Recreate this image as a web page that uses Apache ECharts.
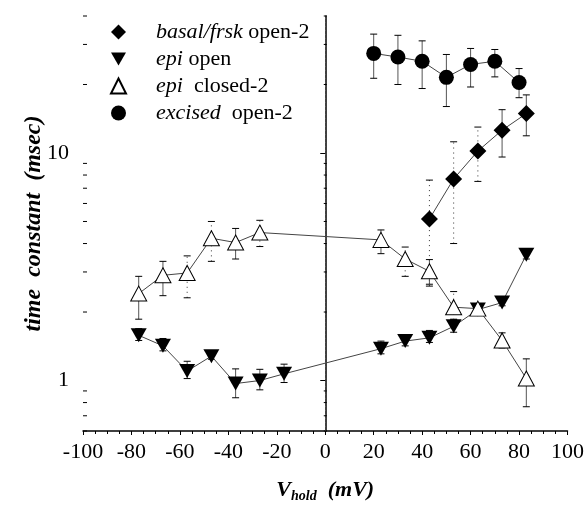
<!DOCTYPE html>
<html>
<head>
<meta charset="utf-8">
<script src="https://cdn.jsdelivr.net/npm/echarts@6/dist/echarts.min.js"></script>
<style>
html,body{margin:0;padding:0;background:#fff;}
#c{width:587px;height:509px;}
</style>
</head>
<body>
<div id="c"></div>
<script>
// ---- data ----
const seriesNames = ['basal/frsk open-2', 'epi open', 'epi  closed-2', 'excised  open-2'];
const legendItalic = ['basal/frsk', 'epi', 'epi', 'excised'];
const legendPlain = [' open-2', ' open', '  closed-2', '  open-2'];

const basalV = [43, 53, 63, 73, 83];
const basalTau = [5.13, 7.69, 10.2, 12.6, 14.9];
const basalLo = [2.6, 4.0, 7.5, 9.6, 11.9];
const basalHi = [7.6, 11.2, 13.0, 15.5, 18.0];

const epiOpenV = [-77, -67, -57, -47, -37, -27, -17, 23, 33, 43, 53, 63, 73, 83];
const epiOpenTau = [1.58, 1.42, 1.10, 1.28, 0.97, 1.00, 1.07, 1.38, 1.49, 1.54, 1.73, 2.05, 2.20, 3.57];
const epiOpenLo = [1.50, 1.35, 1.02, 1.24, 0.84, 0.91, 0.98, 1.31, 1.42, 1.47, 1.63, 1.99, 2.13, 3.42];
const epiOpenHi = [1.69, 1.53, 1.215, 1.33, 1.125, 1.12, 1.18, 1.49, 1.59, 1.66, 1.86, 2.12, 2.29, 3.78];

const epiClosedV = [-77, -67, -57, -47, -37, -27, 23, 33, 43, 53, 63, 73, 83];
const epiClosedTau = [2.41, 2.90, 2.97, 4.22, 4.04, 4.47, 4.15, 3.42, 3.02, 2.10, 2.07, 1.50, 1.02];
const epiClosedLo = [1.86, 2.36, 2.31, 3.34, 3.42, 3.88, 3.61, 2.87, 2.65, 1.85, 1.98, 1.39, 0.767];
const epiClosedHi = [2.87, 3.34, 3.53, 5.0, 4.66, 5.06, 4.59, 3.86, 3.40, 2.46, 2.15, 1.62, 1.245];

const excisedV = [20, 30, 40, 50, 60, 70, 80];
const excisedTau = [27.4, 26.4, 25.3, 21.5, 24.5, 25.3, 20.4];
const excisedLo = [21.3, 20.0, 19.2, 16.0, 19.5, 21.6, 17.5];
const excisedHi = [33.3, 32.9, 31.1, 27.1, 28.8, 28.5, 23.5];

const xTickLabels = [-100, -80, -60, -40, -20, 0, 20, 40, 60, 80, 100];
const yTickLabels = [1, 10];
const yMinorTicks = [0.6, 0.7, 0.8, 0.9, 2, 3, 4, 5, 6, 7, 8, 9, 20, 30, 40];

// ---- styling (kept separate from data) ----
const basalDotted = [0, 1, 2];
const closedDotted = [2, 3, 5, 7, 9];
const FONT = 'Liberation Serif';
const downTri = 'path://M0,0 L10,0 L5,8.66 Z';

const chart = echarts.init(document.getElementById('c'), null, {renderer: 'canvas'});

function pairs(xs, ys) { return xs.map((x, i) => [x, ys[i]]); }

function errSeries(id, xs, lo, hi, dotted) {
  return {
    type: 'custom', name: id, z: 1, silent: true,
    data: xs.map((x, i) => [x, lo[i], hi[i], dotted.indexOf(i) >= 0 ? 1 : 0]),
    encode: {x: 0, y: [1, 2]},
    renderItem: function (params, api) {
      const x = api.value(0);
      const p1 = api.coord([x, api.value(1)]);
      const p2 = api.coord([x, api.value(2)]);
      const dot = api.value(3) === 1;
      const w = 3.5;
      const capStyle = {stroke: '#000', lineWidth: 1};
      return {
        type: 'group', children: [
          {type: 'line', shape: {x1: p1[0], y1: p1[1], x2: p2[0], y2: p2[1]},
           style: {stroke: dot ? '#333' : '#555', lineWidth: 1, lineDash: dot ? [1, 4] : null}},
          {type: 'line', shape: {x1: p1[0] - w, y1: p1[1], x2: p1[0] + w, y2: p1[1]}, style: capStyle},
          {type: 'line', shape: {x1: p2[0] - w, y1: p2[1], x2: p2[0] + w, y2: p2[1]}, style: capStyle}
        ]
      };
    }
  };
}

const minorTickSeries = {
  type: 'custom', name: 'yminor', z: 5, silent: true,
  data: yMinorTicks.map(v => [v]),
  encode: {y: 0},
  renderItem: function (params, api) {
    const v = api.value(0);
    const a = api.coord([-100, v]);
    const b = api.coord([0, v]);
    return {
      type: 'group', children: [
        {type: 'line', shape: {x1: a[0], y1: a[1], x2: a[0] + 4, y2: a[1]}, style: {stroke: '#000', lineWidth: 1}},
        {type: 'line', shape: {x1: b[0] - 1.5, y1: b[1], x2: b[0] + 1.5, y2: b[1]}, style: {stroke: '#000', lineWidth: 1}}
      ]
    };
  }
};

function lineSeries(name, data, symbol, size, fill, extra) {
  return Object.assign({
    type: 'line', name: name, data: data, z: 3,
    symbol: symbol, symbolSize: size, showAllSymbol: true,
    lineStyle: {color: '#444', width: 1},
    itemStyle: {color: fill, borderColor: '#000', borderWidth: fill === '#fff' ? 1 : 0},
    emphasis: {disabled: true},
    animation: false
  }, extra || {});
}

const legendIcons = ['diamond', downTri, 'triangle', 'circle'];

const option = {
  animation: false,
  textStyle: {fontFamily: FONT},
  grid: {left: 83, right: 18, top: 16, bottom: 78},
  legend: {
    orient: 'vertical', left: 105, top: 16,
    itemWidth: 15, itemHeight: 15, itemGap: 5,
    data: seriesNames.map((n, i) => ({name: n, icon: legendIcons[i]})),
    selectedMode: false,
    formatter: function (name) {
      const i = seriesNames.indexOf(name);
      return '{g| }{i|' + legendItalic[i] + '}{p|' + legendPlain[i] + '}';
    },
    textStyle: {
      fontFamily: FONT, fontSize: 22, color: '#000', lineHeight: 22,
      rich: {
        g: {fontFamily: FONT, fontSize: 22, width: 25, lineHeight: 22},
        i: {fontFamily: FONT, fontSize: 22, fontStyle: 'italic', color: '#000', lineHeight: 22},
        p: {fontFamily: FONT, fontSize: 22, color: '#000', lineHeight: 22}
      }
    }
  },
  xAxis: {
    type: 'value', min: -100, max: 100, interval: 20,
    name: '{v|V}{s|hold}{v|  (mV)}',
    nameLocation: 'middle', nameGap: 46,
    nameTextStyle: {
      rich: {
        v: {fontFamily: FONT, fontSize: 22, fontWeight: 'bold', fontStyle: 'italic', color: '#000', lineHeight: 26},
        s: {fontFamily: FONT, fontSize: 14, fontWeight: 'bold', fontStyle: 'italic', color: '#000', verticalAlign: 'bottom', lineHeight: 14, padding: [12, 0, 0, 0]}
      }
    },
    axisLine: {lineStyle: {color: '#000', width: 1.5}},
    axisTick: {show: true, length: 4, lineStyle: {color: '#000'}},
    minorTick: {show: true, splitNumber: 4, length: 3, lineStyle: {color: '#000'}},
    splitLine: {show: false},
    axisLabel: {
      fontFamily: FONT, fontSize: 22, color: '#000', margin: 10,
      formatter: function (v) { return xTickLabels.indexOf(v) >= 0 ? String(v) : ''; }
    }
  },
  yAxis: {
    type: 'log', logBase: 10, min: 0.6, max: 40,
    name: 'time  constant  (msec)',
    nameLocation: 'middle', nameGap: 37, nameMoveOverlap: false,
    nameTextStyle: {fontFamily: FONT, fontSize: 24, fontWeight: 'bold', fontStyle: 'italic', color: '#000'},
    axisLine: {show: true, lineStyle: {color: '#000', width: 1.5}},
    axisTick: {show: true, length: 5, lineStyle: {color: '#000'}},
    splitLine: {show: false},
    axisLabel: {
      fontFamily: FONT, fontSize: 22, color: '#000', margin: 14,
      showMinLabel: false, showMaxLabel: false,
      formatter: function (v) {
        for (const t of yTickLabels) { if (Math.abs(v - t) < 1e-6) return String(t); }
        return '';
      }
    }
  },
  series: [
    errSeries('e_basal', basalV, basalLo, basalHi, basalDotted),
    errSeries('e_open', epiOpenV, epiOpenLo, epiOpenHi, []),
    errSeries('e_closed', epiClosedV, epiClosedLo, epiClosedHi, closedDotted),
    errSeries('e_exc', excisedV, excisedLo, excisedHi, []),
    minorTickSeries,
    lineSeries(seriesNames[0], pairs(basalV, basalTau), 'diamond', 17, '#000', {
      markLine: {
        silent: true, symbol: 'none', label: {show: false},
        lineStyle: {type: [1, 3], color: '#555', width: 1},
        data: [{xAxis: 0}]
      }
    }),
    lineSeries(seriesNames[1], pairs(epiOpenV, epiOpenTau), downTri, [16, 14], '#000'),
    lineSeries(seriesNames[2], pairs(epiClosedV, epiClosedTau), 'triangle', [16, 15], '#fff'),
    lineSeries(seriesNames[3], pairs(excisedV, excisedTau), 'circle', 15, '#000')
  ]
};

chart.setOption(option);
</script>
</body>
</html>
